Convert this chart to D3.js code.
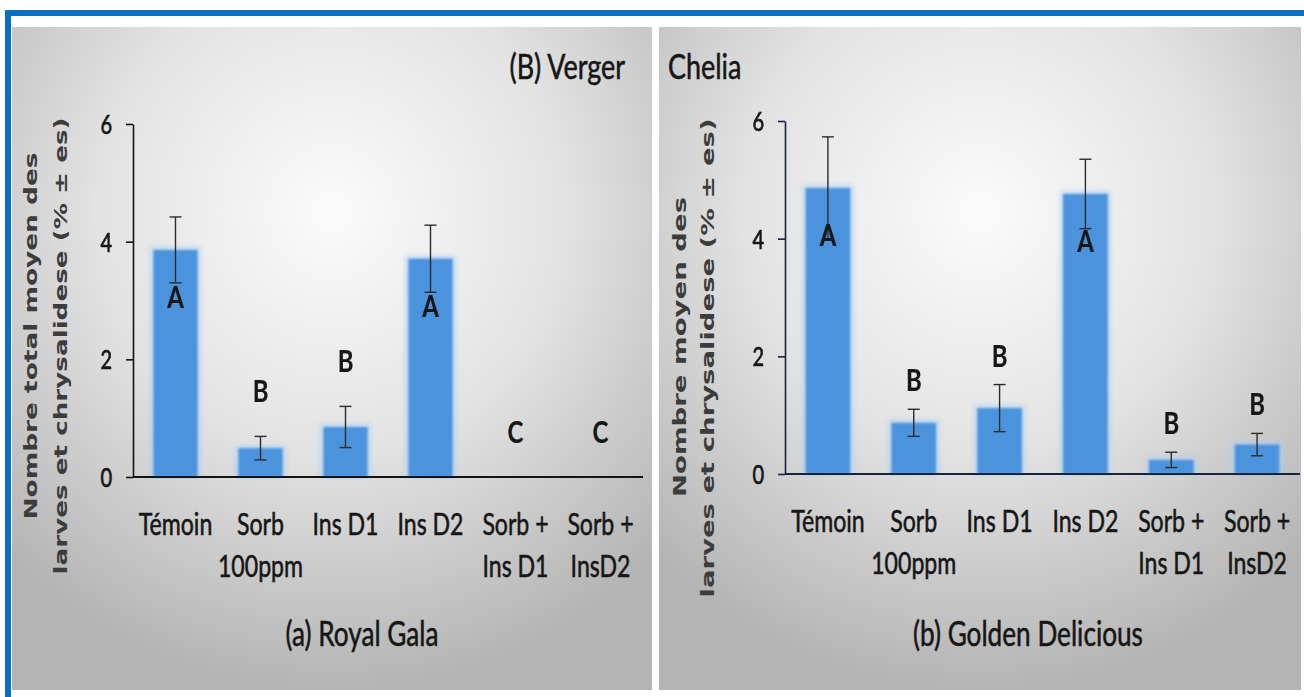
<!DOCTYPE html>
<html>
<head>
<meta charset="utf-8">
<script src="https://cdn.jsdelivr.net/npm/d3@7"></script>
<style>
  html, body { margin: 0; padding: 0; background: #ffffff; }
  svg { display: block; }
</style>
</head>
<body>
<svg id="chart" width="1304" height="697"></svg>
<script>
// Treatments (x axis), split into display lines
const categories = ["Témoin", "Sorb 100ppm", "Ins D1", "Ins D2", "Sorb + Ins D1", "Sorb + InsD2"];
const categoryLines = [["Témoin"], ["Sorb", "100ppm"], ["Ins D1"], ["Ins D2"], ["Sorb +", "Ins D1"], ["Sorb +", "InsD2"]];

// (a) Royal Gala: mean number of larvae and pupae, standard error, significance groups
const royalGalaMeans = [3.86, 0.49, 0.85, 3.71, 0, 0];
const royalGalaErrors = [0.56, 0.20, 0.35, 0.57, 0, 0];
const royalGalaGroups = ["A", "B", "B", "A", "C", "C"];

// (b) Golden Delicious
const goldenMeans = [4.86, 0.87, 1.12, 4.76, 0.24, 0.50];
const goldenErrors = [0.87, 0.23, 0.40, 0.59, 0.13, 0.19];
const goldenGroups = ["A", "B", "B", "A", "B", "B"];

// Axis ticks
const yTicks = [0, 2, 4, 6];

const FONT = "Lato, 'Open Sans', sans-serif";
const SQUEEZE = 0.77;   // condensed look of the horizontal text
const BAR = "#4b93dc";
const INK = "#161616";

const svg = d3.select("#chart");
const defs = svg.append("defs");

// soft grey panel background
const grad = defs.append("radialGradient").attr("id", "panelBg")
  .attr("cx", 0.5).attr("cy", 0.28).attr("r", 0.72);
grad.append("stop").attr("offset", 0).attr("stop-color", "#fbfbfb");
grad.append("stop").attr("offset", 0.5).attr("stop-color", "#e3e3e3");
grad.append("stop").attr("offset", 1).attr("stop-color", "#b4b4b4");

defs.append("filter").attr("id", "soft").attr("x", "-20%").attr("y", "-20%").attr("width", "140%").attr("height", "140%")
  .append("feGaussianBlur").attr("stdDeviation", 0.9);
defs.append("filter").attr("id", "glow").attr("x", "-30%").attr("y", "-30%").attr("width", "160%").attr("height", "160%")
  .append("feGaussianBlur").attr("stdDeviation", 2.5);

// outer blue frame (top and left edges)
svg.append("rect").attr("x", 5).attr("y", 10).attr("width", 1299).attr("height", 6).attr("fill", "#0a6fc2");
svg.append("rect").attr("x", 5).attr("y", 10).attr("width", 6).attr("height", 687).attr("fill", "#0a6fc2");

// helper: horizontally condensed text placed at (x, y)
function squeezed(g, x, y, txt, size, anchor, weight) {
  return g.append("text")
    .attr("transform", `translate(${x},${y}) scale(${SQUEEZE},1)`)
    .attr("text-anchor", anchor || "middle")
    .attr("font-family", FONT)
    .attr("font-size", size)
    .attr("font-weight", weight || "normal")
    .attr("fill", INK)
    .attr("stroke", INK).attr("stroke-width", weight === "bold" ? 0.2 : 0.55)
    .text(txt);
}

const panels = [
  {
    box: [12, 27, 640, 663],
    xRange: [133, 643], yRange: [477, 124],
    means: royalGalaMeans, errors: royalGalaErrors, groups: royalGalaGroups,
    axisColor: "#141414", letterGap: 34,
    yTitle: ["Nombre total moyen des", "larves  et chrysalidese (% ± es)"],
    yTitleX: [30, 60], yTitleY: [336, 346], yTitleLen: [367, 457],
    header: { text: "(B) Verger", x: 625, anchor: "end" },
    caption: { text: "(a) Royal Gala", x: 362 }
  },
  {
    box: [659, 27, 642, 663],
    xRange: [785, 1300], yRange: [474, 121],
    means: goldenMeans, errors: goldenErrors, groups: goldenGroups,
    axisColor: "#18243c", letterGap: 18,
    yTitle: ["Nombre moyen des", "larves et chrysalidese (% ± es)"],
    yTitleX: [679, 707], yTitleY: [347, 358], yTitleLen: [300, 479],
    header: { text: "Chelia", x: 668, anchor: "start" },
    caption: { text: "(b) Golden Delicious", x: 1028 }
  }
];

panels.forEach(p => {
  const g = svg.append("g");
  const [bx, by, bw, bh] = p.box;
  g.append("rect").attr("x", bx).attr("y", by).attr("width", bw).attr("height", bh)
    .attr("fill", "url(#panelBg)");

  const x = d3.scaleBand().domain(categories).range(p.xRange).paddingInner(0.48).paddingOuter(0.24);
  const y = d3.scaleLinear().domain([0, 6]).range(p.yRange);
  const rows = categories.map((c, i) => ({ c, lines: categoryLines[i], v: p.means[i], e: p.errors[i], grp: p.groups[i] }));

  // bars: pale halo then the bar itself
  g.append("g").attr("filter", "url(#glow)").selectAll("rect").data(rows.filter(d => d.v > 0)).join("rect")
    .attr("x", d => x(d.c) - 3).attr("width", x.bandwidth() + 6)
    .attr("y", d => y(d.v) - 3).attr("height", d => y(0) - y(d.v) + 3)
    .attr("fill", "#a9d0f3").attr("opacity", 0.7);
  g.append("g").attr("filter", "url(#soft)").selectAll("rect").data(rows.filter(d => d.v > 0)).join("rect")
    .attr("x", d => x(d.c)).attr("width", x.bandwidth())
    .attr("y", d => y(d.v)).attr("height", d => y(0) - y(d.v))
    .attr("fill", BAR);

  // error bars (mean ± se)
  const eb = g.append("g").attr("stroke", "#2b2b2b").attr("stroke-width", 1.4).attr("fill", "none");
  rows.filter(d => d.e > 0).forEach(d => {
    const cx = x(d.c) + x.bandwidth() / 2;
    const hi = y(d.v + d.e), lo = y(Math.max(0, d.v - d.e));
    eb.append("line").attr("x1", cx).attr("x2", cx).attr("y1", hi).attr("y2", lo);
    eb.append("line").attr("x1", cx - 6).attr("x2", cx + 6).attr("y1", hi).attr("y2", hi);
    eb.append("line").attr("x1", cx - 6).attr("x2", cx + 6).attr("y1", lo).attr("y2", lo);
  });

  // y axis
  const ax = g.append("g").attr("transform", `translate(${p.xRange[0]},0)`)
    .call(d3.axisLeft(y).tickValues(yTicks).tickFormat(d3.format("d")).tickSize(7).tickSizeOuter(0).tickPadding(14));
  ax.select(".domain").attr("stroke", p.axisColor).attr("stroke-width", 1.6);
  ax.selectAll(".tick line").attr("stroke", p.axisColor).attr("stroke-width", 1.6);
  ax.selectAll(".tick text")
    .attr("x", -21 / SQUEEZE).attr("dy", "0.36em")
    .attr("transform", `scale(${SQUEEZE},1)`)
    .attr("font-family", FONT).attr("font-size", 26).attr("fill", INK)
    .attr("stroke", INK).attr("stroke-width", 0.7);

  // x axis baseline
  g.append("line").attr("x1", p.xRange[0]).attr("x2", p.xRange[1])
    .attr("y1", y(0)).attr("y2", y(0))
    .attr("stroke", p.axisColor).attr("stroke-width", 2.2);

  // category labels
  rows.forEach(d => {
    const cx = x(d.c) + x.bandwidth() / 2;
    d.lines.forEach((ln, k) => squeezed(g, cx, y(0) + 58 + k * 42, ln, 30));
  });

  // significance letters
  rows.forEach(d => {
    const cx = x(d.c) + x.bandwidth() / 2;
    const base = d.grp === "A" ? y(d.v) + 58 : y(d.v + d.e) - p.letterGap;
    squeezed(g, cx, base, d.grp, 31, "middle", "bold");
  });

  // y axis title, two rotated lines
  p.yTitle.forEach((t, k) => {
    g.append("text")
      .attr("transform", `translate(${p.yTitleX[k]},${p.yTitleY[k]}) rotate(-90)`)
      .attr("text-anchor", "middle").attr("dominant-baseline", "central")
      .attr("font-family", "'DejaVu Sans', sans-serif").attr("font-weight", "bold")
      .attr("font-size", 18).attr("fill", "#3c3c3c")
      .attr("textLength", p.yTitleLen[k]).attr("lengthAdjust", "spacingAndGlyphs")
      .text(t);
  });

  squeezed(g, p.header.x, 79, p.header.text, 35, p.header.anchor);
  squeezed(g, p.caption.x, 646, p.caption.text, 34);
});
</script>
</body>
</html>
